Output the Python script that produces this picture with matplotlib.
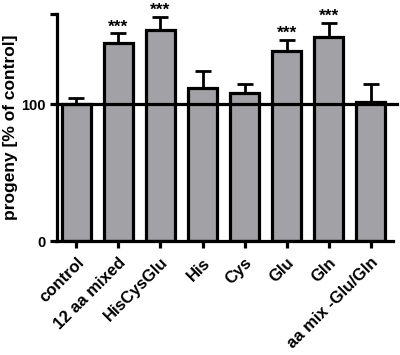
import numpy as np
import matplotlib
matplotlib.use("Agg")
import matplotlib.pyplot as plt

plt.rcParams['font.family'] = ['Liberation Sans', 'DejaVu Sans']

labels = ["control", "12 aa mixed", "HisCysGlu", "His", "Cys", "Glu", "Gln", "aa mix -Glu/Gln"]
values = [100, 145, 154, 112, 108.5, 139, 149, 101.5]
errors = [4.5, 7, 10, 12, 6, 8, 10.5, 13.5]
stars = ["", "***", "***", "", "", "***", "***", ""]

fig = plt.figure(figsize=(4, 3.55), dpi=100)
ax = fig.add_axes([0.1425, 0.321, 0.84, 0.64])

x = np.arange(len(labels))
ax.bar(x, values, width=0.68, color="#a2a2a6", edgecolor="black", linewidth=2.3, zorder=2)
ax.errorbar(x, values, yerr=[np.zeros(len(errors)), errors], fmt="none",
            ecolor="black", elinewidth=2.0, capsize=5.5, capthick=2.0, zorder=3)
ax.axhline(100, color="black", linewidth=2.3, xmin=0, xmax=1.012, clip_on=False, zorder=4)

for xi, v, e, s in zip(x, values, errors, stars):
    if s:
        ax.text(xi, v + e + 1.2, s, ha="center", va="baseline", fontsize=12.5,
                fontweight="bold", clip_on=False)

ax.set_xlim(-0.46, 7.53)
ax.set_ylim(0, 166)
ax.set_yticks([0, 100, 166])
ax.set_yticklabels(["0", "100", ""], fontsize=10.5, fontweight="bold")
ax.set_xticks(x)
ax.set_xticklabels(labels, rotation=45, ha="right", rotation_mode="anchor",
                   fontsize=12, fontweight="bold")
ax.tick_params(width=2.3, length=5)
ax.tick_params(axis="x", pad=5)
ax.set_ylabel("progeny [% of control]", fontsize=12.5, fontweight="bold", labelpad=2)

for side in ["top", "right"]:
    ax.spines[side].set_visible(False)
for side in ["left", "bottom"]:
    ax.spines[side].set_linewidth(2.3)

fig.savefig("out.png", dpi=100)
